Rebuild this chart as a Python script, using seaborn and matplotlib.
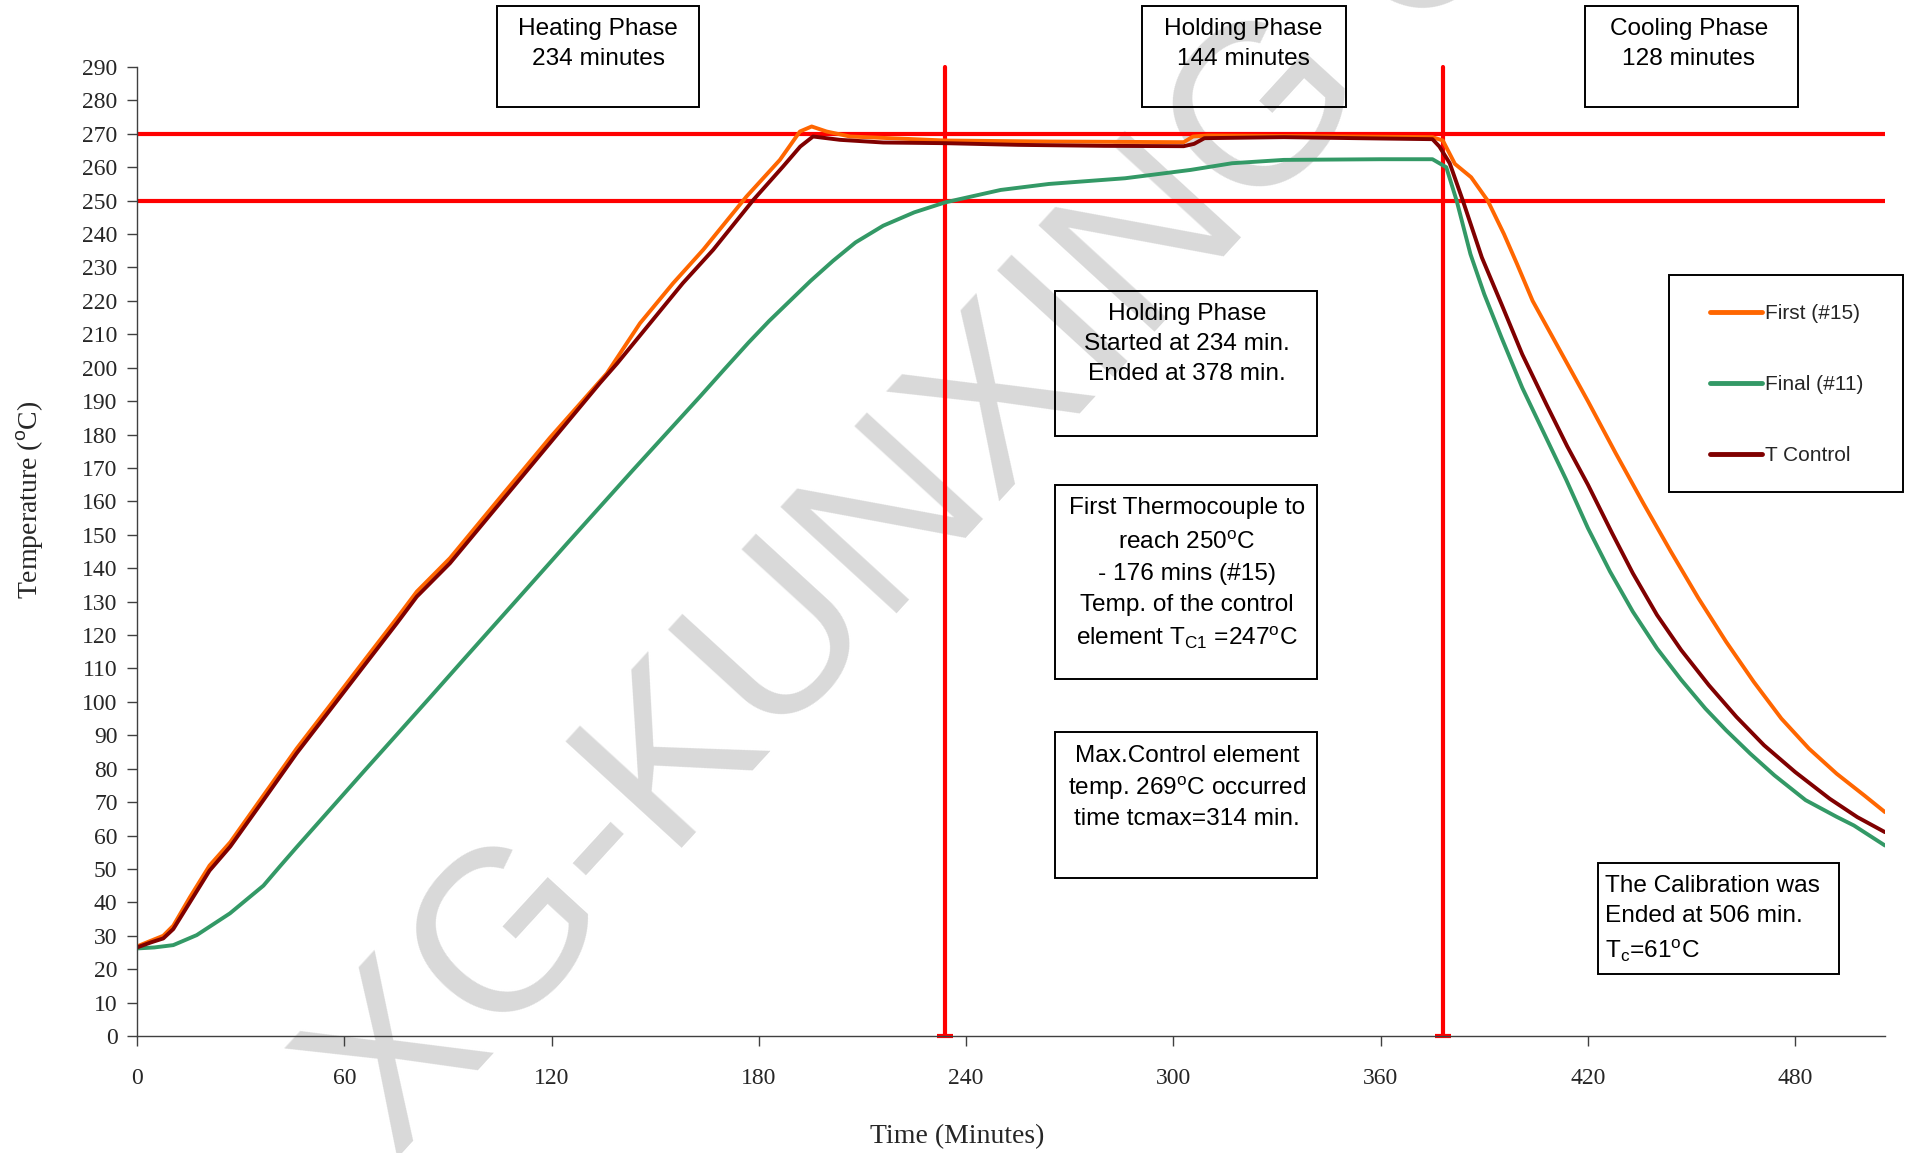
import matplotlib.pyplot as plt
import pandas as pd
import seaborn as sns
from matplotlib.patches import Rectangle

# Data (minutes, deg C)
first_time = [0, 4, 7.6, 10.5, 15.3, 21, 27, 36.6, 46.2, 55.9, 65.5, 75.2, 81, 90.6,
              105, 119.5, 136, 145.6, 155.2, 163.9, 176.4, 186.1, 191.9, 195.3, 199.6,
              206.4, 234, 264, 303, 305.7, 310, 340, 375, 378, 381.5, 386.2, 391,
              395.7, 399.5, 404, 412, 420, 428, 436, 444, 452, 460, 468, 476, 484,
              492, 500, 506]
first_temp = [26.8, 28.5, 30, 33, 41.5, 51, 58, 72, 86, 99, 112, 125, 133, 143,
              161, 179, 198.3, 213.3, 225.3, 235.3, 251.2, 262.2, 270.7, 272.2, 270.7,
              269.2, 268, 267.7, 267.5, 269.2, 269.5, 269.3, 269, 268, 261, 257, 250,
              240, 231, 220, 205, 190, 174.5, 159.5, 145, 131, 118, 106, 95, 86,
              78.5, 72, 67]

final_time = [0, 5, 10.5, 17.3, 26.9, 36.6, 41.4, 46.2, 55.9, 65.5, 75.2, 84.8, 94.4,
              108.9, 124.4, 143.6, 163, 170, 177, 183, 189, 195, 201.5, 208, 216, 225,
              234, 250, 264, 286, 305, 317, 332, 360, 375, 379, 382, 386, 390, 395,
              401, 407, 413.7, 420, 426.4, 433, 440, 447, 454, 460, 467, 474, 483,
              492, 497, 506]
final_temp = [26.2, 26.5, 27.2, 30.2, 36.7, 45, 50.8, 56.5, 67.8, 79, 90.2, 101.3,
              112.5, 129.3, 147.3, 169.4, 191.4, 199.5, 207.5, 214, 220, 226, 232,
              237.5, 242.5, 246.5, 249.5, 253.2, 255, 256.7, 259.2, 261.2, 262.2,
              262.4, 262.4, 260, 250, 234, 222, 209, 194, 181, 166.5, 152, 139, 127,
              116, 106.6, 98, 91.5, 84.5, 78, 70.6, 65.6, 63, 57]

control_time = [0, 4, 7.6, 10.5, 15.3, 21, 27, 36.6, 46.2, 55.9, 65.5, 75.2, 81, 90.6,
                105, 119.5, 134, 139, 148.5, 158, 166.8, 178.4, 187, 192, 195.7, 203.5,
                216, 234, 255, 280, 303, 306, 309, 332, 360, 375, 377, 380, 383.8,
                389.3, 395, 401, 408, 414, 420, 427, 433, 440, 447, 455, 463, 471,
                480, 490, 498, 506]
control_temp = [26.5, 28, 29.2, 32, 40, 49.5, 56.7, 70.6, 84.6, 97.6, 110.5, 123.5,
                131.5, 141.5, 159.4, 177.4, 195.4, 201.3, 213.3, 225.3, 235.3, 250.2,
                260.2, 266.2, 269.2, 268.2, 267.4, 267.2, 266.7, 266.4, 266.3, 267,
                268.7, 269, 268.6, 268.4, 266.2, 261.2, 250, 233, 219, 204, 189, 176.5,
                165, 150.5, 138.5, 126, 115.5, 105, 95.5, 87, 79, 71, 65.5, 61]

series_names = ["First (#15)", "Final (#11)", "T Control"]
series_colors = ["#FF6600", "#339966", "#800000"]
phase_bounds = [234, 378]
limit_temps = [250, 270]
x_ticks = [0, 60, 120, 180, 240, 300, 360, 420, 480]
y_ticks = list(range(0, 291, 10))

df = pd.concat([
    pd.DataFrame({"Time": first_time, "Temperature": first_temp, "Series": series_names[0]}),
    pd.DataFrame({"Time": final_time, "Temperature": final_temp, "Series": series_names[1]}),
    pd.DataFrame({"Time": control_time, "Temperature": control_temp, "Series": series_names[2]}),
], ignore_index=True)

sns.set_style("ticks")
plt.rcParams["font.family"] = ["Liberation Serif", "DejaVu Serif"]
plt.rcParams["mathtext.fontset"] = "custom"
plt.rcParams["mathtext.rm"] = "Liberation Sans"
plt.rcParams["mathtext.it"] = "Liberation Sans:italic"
plt.rcParams["mathtext.bf"] = "Liberation Sans:bold"

W, H = 1907, 1153
fig = plt.figure(figsize=(W / 100, H / 100), dpi=100)
ax = fig.add_axes([137 / W, 1 - 1036 / H, (1885 - 137) / W, (1036 - 67) / H])


def fx(px):
    return px / W


def fy(py):
    return 1 - py / H


# watermark
ax.text(fx(395), fy(1162), "XG-KUNXING GL", transform=fig.transFigure, rotation=47.5,
        rotation_mode="anchor", ha="left", va="baseline", fontsize=165,
        family="Liberation Sans", color="#d9d9d9", zorder=0.5, clip_on=False)

# reference lines
for t in limit_temps:
    ax.axhline(t, color="#FF0000", lw=3, zorder=1.5)
for t in phase_bounds:
    ax.plot([t, t], [0, 290], color="#FF0000", lw=3, zorder=1.5, clip_on=False)
    ax.plot([t], [0], marker="_", ms=12, mew=3, color="#FF0000", zorder=1.5, clip_on=False)

sns.lineplot(data=df, x="Time", y="Temperature", hue="Series", hue_order=series_names,
             palette=dict(zip(series_names, series_colors)), linewidth=2.8,
             estimator=None, sort=True, ax=ax, zorder=2)

ax.set_xlim(0, 506)
ax.set_ylim(0, 290)
ax.set_xticks(x_ticks)
ax.set_yticks(y_ticks)
ax.tick_params(axis="both", direction="out", length=7, width=1, color="#404040",
               labelsize=17, labelcolor="#262626")
ax.tick_params(axis="x", pad=16)
ax.tick_params(axis="y", pad=7)
ax.spines[["top", "right"]].set_visible(False)
for s in ["left", "bottom"]:
    ax.spines[s].set_color("#404040")
    ax.spines[s].set_linewidth(1)

ax.set_xlabel("Time (Minutes)", fontsize=20)
ax.xaxis.label.set_verticalalignment("center")
ax.xaxis.set_label_coords((957 - 137) / 1748, (1036 - 1137) / 969)
ax.set_ylabel(r"Temperature ($^{\mathrm{o}}$C)", fontsize=20)
ax.yaxis.label.set_verticalalignment("center")
ax.yaxis.set_label_coords((30 - 137) / 1748, (1036 - 500) / 969)

# legend (frame drawn separately)
handles, labels = ax.get_legend_handles_labels()
leg = ax.legend(handles, labels, loc="upper left", bbox_to_anchor=(fx(1710), fy(304)),
                bbox_transform=fig.transFigure, frameon=False, borderpad=0,
                borderaxespad=0, labelspacing=2.5, handlelength=2.5, handletextpad=0.15,
                prop={"family": "Liberation Sans", "size": 15})
for line in leg.get_lines():
    line.set_linewidth(3.5)


def add_box(x0, y0, x1, y1):
    fig.add_artist(Rectangle((fx(x0), fy(y1)), (x1 - x0) / W, (y1 - y0) / H,
                             transform=fig.transFigure, fill=False, ec="black", lw=1.4))


def add_lines(x, baselines, lines, ha="center"):
    for b, s in zip(baselines, lines):
        fig.text(fx(x), fy(b), s, ha=ha, va="baseline", fontsize=17.6,
                 family="Liberation Sans", color="black")


add_box(1669, 275, 1903, 492)

add_box(497, 6, 699, 107)
add_lines(598, [35, 65], ["Heating Phase", "234 minutes"])
add_box(1142, 6, 1346, 107)
add_lines(1243, [35, 65], ["Holding Phase", "144 minutes"])
add_box(1585, 6, 1798, 107)
add_lines(1689, [35, 65], ["Cooling Phase", "128 minutes"])

add_box(1055, 291, 1317, 436)
add_lines(1187, [320, 350, 380],
          ["Holding Phase", "Started at 234 min.", "Ended at 378 min."])

add_box(1055, 485, 1317, 679)
add_lines(1187, [514, 549, 580, 611, 645],
          ["First Thermocouple to", r"reach 250$^{\mathrm{o}}$C", "- 176 mins (#15)",
           "Temp. of the control", r"element T$_{\mathrm{C1}}$ =247$^{\mathrm{o}}$C"])

add_box(1055, 732, 1317, 878)
add_lines(1187, [762, 795, 825],
          ["Max.Control element", r"temp. 269$^{\mathrm{o}}$C occurred",
           "time tcmax=314 min."])

add_box(1598, 863, 1839, 974)
add_lines(1605, [892, 922, 958],
          ["The Calibration was", "Ended at 506 min.", r"T$_{\mathrm{c}}$=61$^{\mathrm{o}}$C"],
          ha="left")

fig.savefig("out.png", dpi=100)
